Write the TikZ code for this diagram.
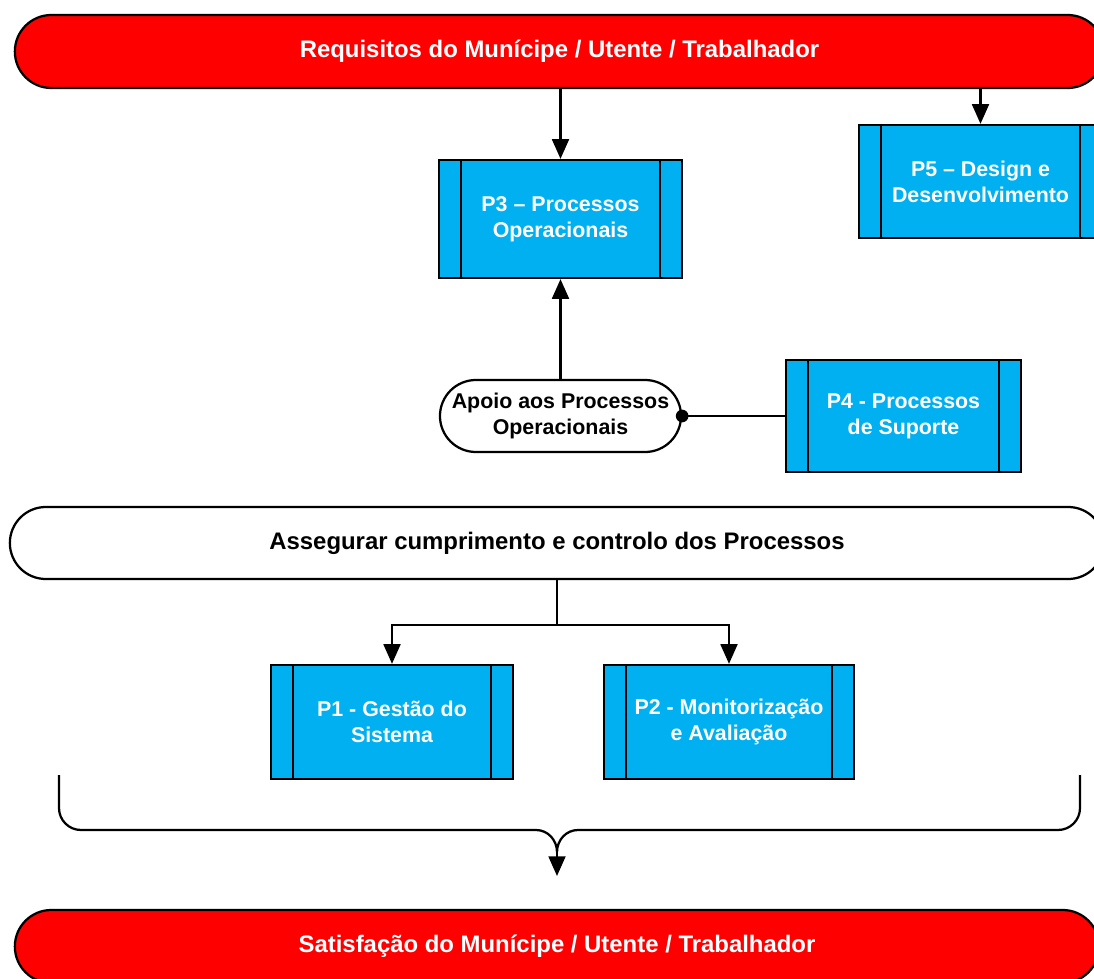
\documentclass[tikz,border=0pt]{standalone}
\usepackage{fontspec}
\setmainfont{Liberation Sans}
\usepackage{tikz}
\usetikzlibrary{shapes.misc, arrows.meta}

\definecolor{pillred}{RGB}{255,0,0}
\definecolor{procblue}{RGB}{0,176,240}

\begin{document}
\begin{tikzpicture}[x=0.025cm, y=-0.025cm,
	line width=1.6pt,
	txt/.style={font=\bfseries\fontsize{15.2}{18.6}\selectfont, align=center},
	bigtxt/.style={font=\bfseries\fontsize{17}{20}\selectfont},
	pill/.style={rounded rectangle, draw, txt, inner sep=0pt},
	proc/.style={rectangle, draw, fill=procblue, text=white, txt, inner sep=0pt},
	arr/.style={-{Triangle[length=14pt, width=12pt]}}]

	\useasboundingbox (0,0) rectangle (1094,979);
	\clip (0,0) rectangle (1094,979);

	\node[pill, bigtxt, fill=pillred, text=white, minimum width=27.225cm, minimum height=1.825cm] (req) at (559.5,51.5) {Requisitos do Munícipe / Utente / Trabalhador};
	\node[proc, minimum width=6.075cm, minimum height=2.95cm] (p3) at (560.5,219) {P3 -- Processos\\Operacionais};
	\node[proc, minimum width=6.075cm, minimum height=2.825cm] (p5) at (980.5,181.5) {P5 -- Design e\\Desenvolvimento};
	\node[pill, fill=white, minimum width=6.025cm, minimum height=1.8cm] (apoio) at (560.5,416) {Apoio aos Processos\\Operacionais};
	\node[proc, minimum width=5.875cm, minimum height=2.8cm] (p4) at (903.5,416) {P4 - Processos\\de Suporte};
	\node[pill, bigtxt, fill=white, minimum width=27.35cm, minimum height=1.8cm] (assegurar) at (557,543) {Assegurar cumprimento e controlo dos Processos};
	\node[proc, minimum width=6.05cm, minimum height=2.85cm] (p1) at (392,722) {P1 - Gestão do\\Sistema};
	\node[proc, minimum width=6.25cm, minimum height=2.85cm] (p2) at (729,722) {P2 - Monitorização\\e Avaliação};
	\node[pill, bigtxt, fill=pillred, text=white, minimum width=27.1cm, minimum height=1.825cm] (satisf) at (557,946.5) {Satisfação do Munícipe / Utente / Trabalhador};

	% side bars of the process boxes
	\foreach \n in {p1,p2,p3,p4,p5}{
		\draw ([xshift=0.575cm]\n.north west) -- ([xshift=0.575cm]\n.south west);
		\draw ([xshift=-0.575cm]\n.north east) -- ([xshift=-0.575cm]\n.south east);
	}

	\draw[arr] (p3.north |- req.south) -- (p3.north);
	\draw[arr] (p5.north |- req.south) -- (p5.north);
	\draw[arr] (apoio.north) -- (p3.south);
	\draw (apoio.east) -- (p4.west);
	\fill (apoio.east) circle (4.5pt);

	\coordinate (split) at (557,625);
	\draw (assegurar.south) -- (split);
	\draw[arr] (split) -| (p1.north);
	\draw[arr] (split) -| (p2.north);

	% brace
	\coordinate (bl) at (59,775);
	\coordinate (br) at (1080,775);
	\coordinate (tip) at (557,852);
	\coordinate (tipend) at (557,876);
	\draw (bl) -- (59,808) to[out=-90,in=180] (81,830) -- (536,830) to[out=0,in=90] (tip)
		to[out=90,in=180] (578,830) -- (1058,830) to[out=0,in=-90] (1080,808) -- (br);
	\draw[arr] (tip) -- (tipend);

\end{tikzpicture}
\end{document}
